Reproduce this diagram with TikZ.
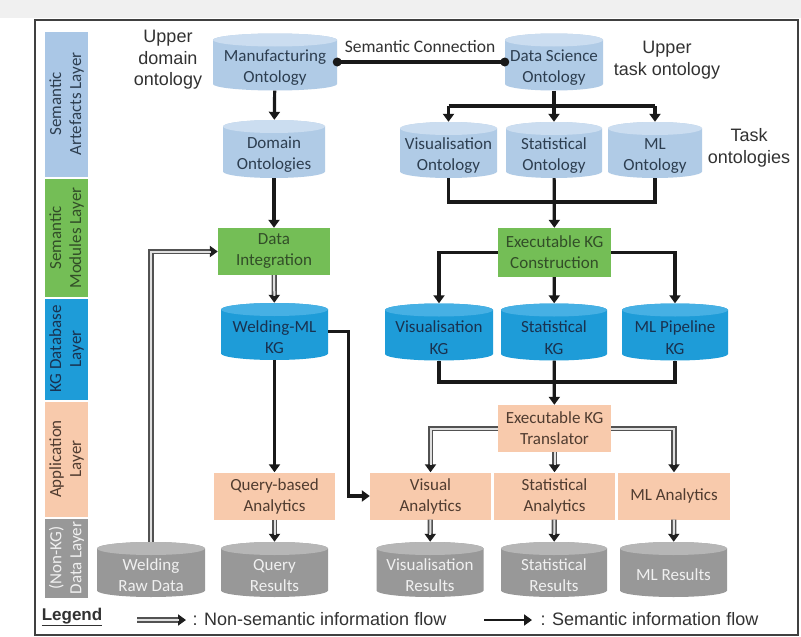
\documentclass[tikz,border=0pt]{standalone}
\usepackage{fontspec}
\setmainfont{Carlito}
\newfontfamily\arialf{Liberation Sans}
\usetikzlibrary{arrows.meta,calc}

% palette
\definecolor{ontoBody}{RGB}{176,203,230}
\definecolor{ontoTop}{RGB}{203,221,240}
\definecolor{ontoText}{RGB}{45,62,80}
\definecolor{kgBody}{RGB}{30,156,216}
\definecolor{kgTop}{RGB}{70,176,228}
\definecolor{kgText}{RGB}{25,50,80}
\definecolor{resBody}{RGB}{152,152,152}
\definecolor{resTop}{RGB}{182,182,182}
\definecolor{resText}{RGB}{240,240,240}
\definecolor{modFill}{RGB}{116,190,86}
\definecolor{modText}{RGB}{50,78,40}
\definecolor{appFill}{RGB}{248,202,172}
\definecolor{appText}{RGB}{80,60,48}
\definecolor{artFill}{RGB}{170,199,230}
\definecolor{lineDark}{RGB}{25,25,25}
\definecolor{legText}{RGB}{50,50,50}

% strut that lowers database labels below the top end
\newcommand\dbstrut{\rule{0pt}{23pt}}

\tikzset{
  x=1pt, y=-1pt,
  % database drawn inside a rectangular node: body plus a lighter top end
  cyl/.style n args={3}{
    rectangle, inner sep=0pt, align=center, text=#3,
    font=\fontsize{17}{21.5}\selectfont,
    path picture={
      \fill[#1] let \p1=(path picture bounding box.south west),
                     \p2=(path picture bounding box.north east),
                     \n1={(\x2-\x1)/2} in
        (\x1,\y2-6.5pt) -- (\x1,\y1+6.5pt)
        arc[start angle=180,end angle=360,x radius=\n1,y radius=6.5pt]
        -- (\x2,\y2-6.5pt)
        arc[start angle=0,end angle=180,x radius=\n1,y radius=6.5pt] -- cycle;
      \fill[#2] let \p1=(path picture bounding box.south west),
                     \p2=(path picture bounding box.north east),
                     \n1={(\x2-\x1)/2} in
        ({(\x1+\x2)/2},\y2-6.5pt) ellipse[x radius=\n1,y radius=6.5pt];
    }},
  onto/.style={cyl={ontoBody}{ontoTop}{ontoText}},
  kgdb/.style={cyl={kgBody}{kgTop}{kgText}},
  resdb/.style={cyl={resBody}{resTop}{resText}},
  modbox/.style={rectangle, fill=modFill, text=modText, align=center,
    font=\fontsize{17}{21}\selectfont, inner sep=0pt},
  appbox/.style={rectangle, fill=appFill, text=appText, align=center,
    font=\fontsize{17}{21}\selectfont, inner sep=0pt},
  note/.style={align=center, text=legText, font=\arialf\fontsize{18}{21.5}\selectfont},
  layerlbl/.style={rotate=90, align=center, font=\fontsize{17}{20}\selectfont},
  semline/.style={draw=lineDark, line width=3.2pt},
  sem/.style={semline, -{Triangle[length=8pt,width=11pt]}},
  nonsem/.style={draw=black!68, line width=5.2pt,
    -{Triangle[length=8pt,width=11pt,color=black!88]},
    postaction={draw=black!12, line width=2pt, shorten >=7pt, -}},
}

\begin{document}
\begin{tikzpicture}
\useasboundingbox (0,0) rectangle (801,637);
\fill[white] (0,0) rectangle (801,637);
\fill[black!6] (0,0) rectangle (801,18);
\draw[black!75, line width=1.3pt] (35,20) rectangle (798,635);

% layer bar
\fill[artFill] (45,32) rectangle (88,177);
\fill[modFill] (45,179) rectangle (88,297);
\fill[kgBody]  (45,299) rectangle (88,400);
\fill[appFill] (45,402) rectangle (88,517);
\fill[resBody] (45,519) rectangle (88,598);
\node[layerlbl, text=ontoText] (lay1) at (66.5,104) {Semantic\\Artefacts Layer};
\node[layerlbl, text=modText]  (lay2) at (66.5,238) {Semantic\\Modules Layer};
\node[layerlbl, text=kgText]   (lay3) at (66.5,349) {KG Database\\Layer};
\node[layerlbl, text=appText]  (lay4) at (66.5,459) {Application\\Layer};
\node[layerlbl, text=resText]  (lay5) at (66.5,558) {(Non-KG)\\Data Layer};

% ontologies
\node[onto, minimum width=124, minimum height=57] (mfg)   at (275,62)    {\dbstrut Manufacturing\\Ontology};
\node[onto, minimum width=98,  minimum height=57] (ds)    at (554,62)    {\dbstrut Data Science\\Ontology};
\node[onto, minimum width=102, minimum height=58] (dom)   at (274,149)   {\dbstrut Domain\\Ontologies};
\node[onto, minimum width=97,  minimum height=56] (visO)  at (448.5,150) {\dbstrut Visualisation\\Ontology};
\node[onto, minimum width=96,  minimum height=56] (statO) at (554,150)   {\dbstrut Statistical\\Ontology};
\node[onto, minimum width=94,  minimum height=56] (mlO)   at (655,150)   {\dbstrut ML\\Ontology};

% annotations
\node[note] (updom)  at (168,60)  {Upper\\domain\\ontology};
\node[note] (uptask) at (667,60)  {Upper\\task ontology};
\node[note] (taskO)  at (749,148) {Task\\ontologies};
\node[font=\fontsize{17.5}{20}\selectfont, text=legText] (semc) at (420,47) {Semantic Connection};

% semantic modules
\node[modbox, minimum width=112, minimum height=47] (di)   at (274,251.5)   {Data\\Integration};
\node[modbox, minimum width=113, minimum height=49] (ekgc) at (554.5,252.5) {Executable KG\\Construction};

% knowledge graphs
\node[kgdb, minimum width=107, minimum height=57] (wkg)    at (274.5,331.5) {\dbstrut Welding-ML\\KG};
\node[kgdb, minimum width=108, minimum height=57] (visKG)  at (439,332)     {\dbstrut Visualisation\\KG};
\node[kgdb, minimum width=106, minimum height=57] (statKG) at (554,332)     {\dbstrut Statistical\\KG};
\node[kgdb, minimum width=106, minimum height=57] (mlKG)   at (675,332)     {\dbstrut ML Pipeline\\KG};

% application
\node[appbox, minimum width=113, minimum height=47] (ekgt) at (554.5,428.5) {Executable KG\\Translator};
\node[appbox, minimum width=121, minimum height=47] (qa)   at (274.5,496)   {Query-based\\Analytics};
\node[appbox, minimum width=121, minimum height=47] (va)   at (430.5,496)   {Visual\\Analytics};
\node[appbox, minimum width=121, minimum height=47] (sa)   at (554.5,496)   {Statistical\\Analytics};
\node[appbox, minimum width=112, minimum height=47] (mla)  at (674,496)     {ML Analytics};

% data stores
\node[resdb, minimum width=108, minimum height=55] (wrd) at (151,569.5)   {\dbstrut Welding\\Raw Data};
\node[resdb, minimum width=107, minimum height=55] (qr)  at (274.5,569.5) {\dbstrut Query\\Results};
\node[resdb, minimum width=107, minimum height=55] (vr)  at (430,569.5)   {\dbstrut Visualisation\\Results};
\node[resdb, minimum width=106, minimum height=55] (sr)  at (554,569.5)   {\dbstrut Statistical\\Results};
\node[resdb, minimum width=107, minimum height=55] (mlr) at (673.5,569.5) {\dbstrut ML Results};

% semantic connection between upper ontologies
\draw[semline] (mfg.east) -- (ds.west);
\fill[lineDark] (mfg.east) circle (4.5);
\fill[lineDark] (ds.west) circle (4.5);

% domain side
\draw[sem] (mfg) -- (dom);
\draw[sem] (dom) -- (di);
\draw[nonsem] (di) -- (wkg);
\draw[sem] (wkg) -- (qa);
\draw[nonsem] (qa) -- (qr);
\draw[nonsem] (wrd.north) |- (di.west);
\draw[sem] (wkg.east) -- ++(20,0) |- (va.west);

% task side
\coordinate (dsb) at (554,106);
\coordinate (om)  at (554,202);
\coordinate (km)  at (554,382);
\draw[semline] (visO.north |- dsb) -- (mlO.north |- dsb);
\draw[sem] (ds) -- (statO);
\draw[sem] (visO.north |- dsb) -- (visO.north);
\draw[sem] (mlO.north |- dsb) -- (mlO.north);
\draw[semline] (visO.south) -- (visO.south |- om) -- (mlO.south |- om) -- (mlO.south);
\draw[sem] (statO) -- (ekgc);
\draw[sem] (ekgc.west) -| (visKG.north);
\draw[sem] (ekgc.east) -| (mlKG.north);
\draw[sem] (ekgc) -- (statKG);
\draw[semline] (visKG.south) -- (visKG.south |- km) -- (mlKG.south |- km) -- (mlKG.south);
\draw[sem] (statKG) -- (ekgt);
\draw[nonsem] (ekgt.west) -| (va.north);
\draw[nonsem] (ekgt.east) -| (mla.north);
\draw[nonsem] (ekgt) -- (sa);
\draw[nonsem] (va) -- (vr);
\draw[nonsem] (sa) -- (sr);
\draw[nonsem] (mla) -- (mlr);

% legend
\node[font=\arialf\bfseries\fontsize{17}{19}\selectfont, text=legText] (leg) at (72,617) {\underline{Legend}};
\coordinate (ln1) at (137,620);
\coordinate (ln2) at (186,620);
\coordinate (ls1) at (484,620);
\coordinate (ls2) at (532,620);
\draw[nonsem] (ln1) -- (ln2);
\draw[sem, line width=2.8pt] (ls1) -- (ls2);
\node[note, anchor=west] (legn) at (189,619) {: Non-semantic information flow};
\node[note, anchor=west] (legs) at (537,619) {: Semantic information flow};
\end{tikzpicture}
\end{document}
